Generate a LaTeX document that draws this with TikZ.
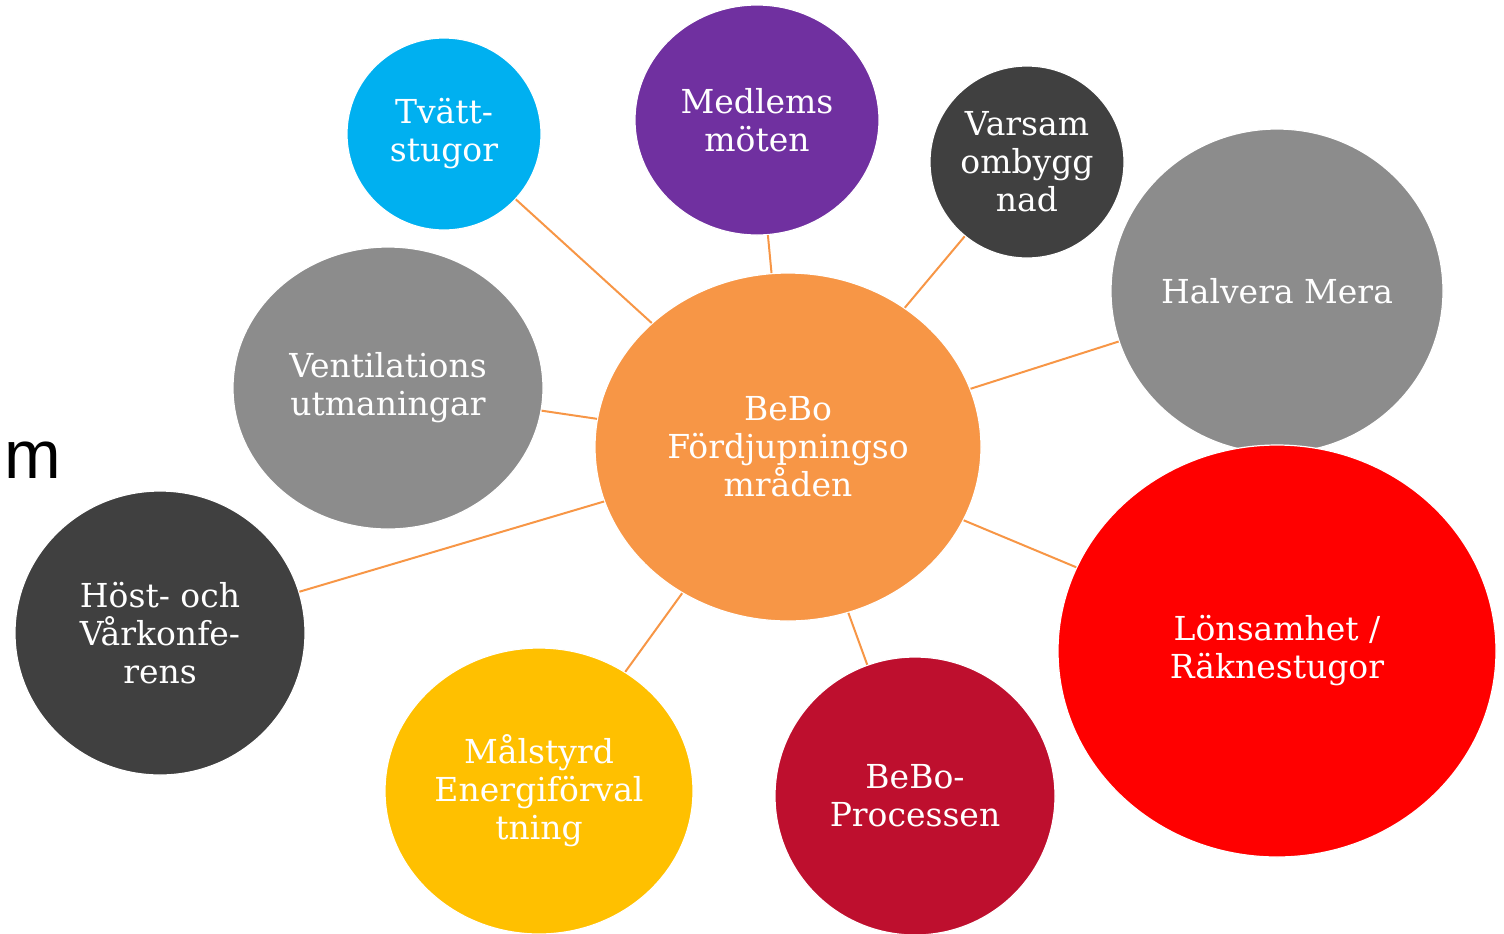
\documentclass[tikz,border=0pt]{standalone}
\usepackage{fontspec}
\usetikzlibrary{shapes.geometric}
\setmainfont{DejaVu Serif}
\newfontfamily\msans{Liberation Sans}
\definecolor{bebo}{HTML}{F79646}
\definecolor{ljusbla}{HTML}{00B0F0}
\definecolor{lila}{HTML}{7030A0}
\definecolor{morkgra}{HTML}{404040}
\definecolor{gra}{HTML}{8C8C8C}
\definecolor{guld}{HTML}{FFC000}
\definecolor{vinrod}{HTML}{BE0F2E}
\begin{document}
\begin{tikzpicture}[x=0.5pt,y=-0.5pt,
    bubbla/.style={ellipse,draw=white,line width=0.6pt,inner sep=0pt,
        text=white,align=center,font=\fontsize{16.5}{19}\selectfont},
    eker/.style={draw=bebo,line width=1pt}]
    \useasboundingbox (0,0) rectangle (1504,933);
    % omraden runt mitten
    \node[bubbla,fill=ljusbla,minimum width=97pt,minimum height=96pt] (tvatt) at (444,134) {Tvätt-\\stugor};
    \node[bubbla,fill=lila,minimum width=122pt,minimum height=115pt] (medlems) at (757,120) {Medlems\\möten};
    \node[bubbla,fill=morkgra,minimum width=97pt,minimum height=96pt] (varsam) at (1027,162) {Varsam\\ombygg\\nad};
    \node[bubbla,fill=gra,minimum width=166pt,minimum height=162pt] (halvera) at (1277,291) {Halvera Mera};
    \node[bubbla,fill=gra,minimum width=155pt,minimum height=141pt] (ventil) at (388,388) {Ventilations\\utmaningar};
    \node[bubbla,fill=morkgra,minimum width=145pt,minimum height=142pt] (host) at (160,633) {Höst- och\\Vårkonfe-\\rens};
    \node[bubbla,fill=guld,minimum width=154pt,minimum height=143pt] (malstyrd) at (539,791) {Målstyrd\\Energiförval\\tning};
    \node[bubbla,fill=vinrod,minimum width=140pt,minimum height=139pt] (process) at (915,796) {BeBo-\\Processen};
    \node[bubbla,fill=red,minimum width=219pt,minimum height=206pt] (lonsamhet) at (1277,651) {Lönsamhet /\\Räknestugor};
    % mitten
    \node[bubbla,fill=bebo,minimum width=193pt,minimum height=174pt] (mitt) at (788,447) {BeBo\\Fördjupningso\\mråden};
    \node[font=\msans\fontsize{34}{34}\selectfont,inner sep=0pt] (mtext) at (33,460) {m};
    % ekrar
    \foreach \t in {tvatt,medlems,varsam,halvera,ventil,host,malstyrd,process,lonsamhet}
        \draw[eker] (mitt) -- (\t);
\end{tikzpicture}
\end{document}
